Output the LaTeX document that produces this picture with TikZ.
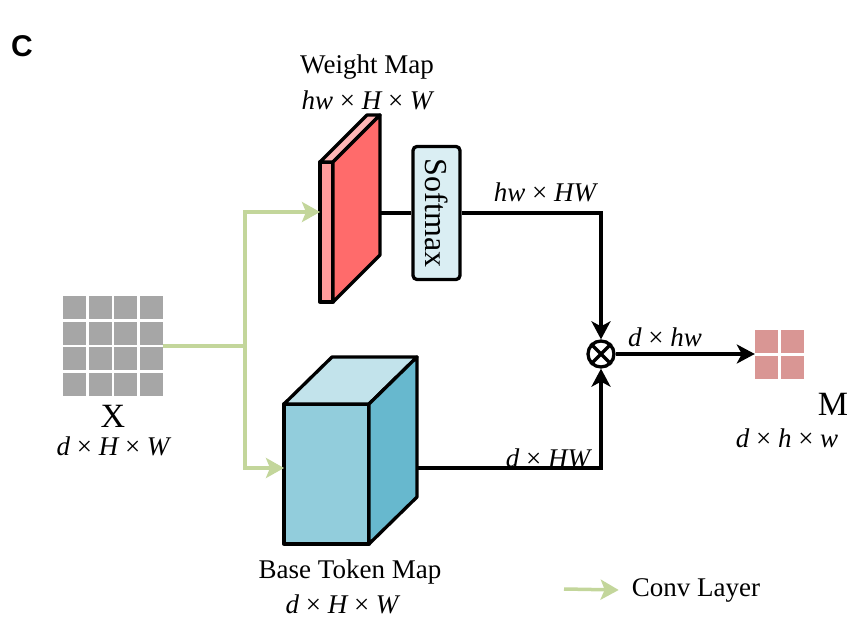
\documentclass[tikz,border=0pt]{standalone}
\usepackage{fontspec}
\setmainfont{Liberation Serif}
\newfontfamily\panelfont{Liberation Sans}
\usetikzlibrary{arrows.meta}

\definecolor{xgray}{HTML}{A6A6A6}
\definecolor{convgreen}{HTML}{C3D69B}
\definecolor{wfront}{HTML}{FF9B9B}
\definecolor{wtop}{HTML}{FFB5B5}
\definecolor{wside}{HTML}{FF6B6B}
\definecolor{softblue}{HTML}{DAEEF3}
\definecolor{cfront}{HTML}{92CDDC}
\definecolor{ctop}{HTML}{C2E3EB}
\definecolor{cside}{HTML}{67B8CE}
\definecolor{mpink}{HTML}{D99694}

% sizes such as d x H x W
\newcommand{\dimtxt}[1]{\itshape #1}

\begin{document}
\begin{tikzpicture}[x=1pt, y=-1pt,
    lbl/.style={font=\fontsize{27}{32}\selectfont, inner sep=0pt},
    dims/.style={font=\fontsize{27}{32}\selectfont\itshape, inner sep=0pt},
    bigl/.style={font=\fontsize{34}{40}\selectfont, inner sep=0pt},
    face/.style={draw=black, line width=3.3pt, line join=round},
    edge/.style={draw=black, line width=3.3pt},
    flow/.style={edge, -{Stealth[length=18pt, width=19pt, inset=5pt]}},
    convline/.style={draw=convgreen, line width=3.5pt},
    conv/.style={convline, -{Stealth[length=18pt, width=20pt, inset=4pt]}},
    softbox/.style={draw, line width=3.3pt, fill=softblue, rounded corners=4pt,
        minimum width=47pt, minimum height=133pt, inner sep=0pt,
        font=\fontsize{32}{38}\selectfont},
    mulnode/.style={draw, circle, line width=3.3pt, minimum size=26pt, inner sep=0pt, fill=white},
]
    \useasboundingbox (0,0) rectangle (868,636);

    % Panel letter
    \node (panel) at (22,46) {\panelfont\fontsize{30}{34}\selectfont\bfseries C};

    % Input X
    \node[minimum size=100pt, inner sep=0pt] (xmap) at (113,346) {};
    \foreach \i in {0,...,3}
        \foreach \j in {0,...,3}
            \fill[xgray] (63+25.67*\i, 296+25.67*\j) rectangle ++(23,23);
    \node[bigl] (xname) at (113,416) {X};
    \node[dims] (xsize) at (113,446) {d {\upshape×} H {\upshape×} W};

    % Weight map (thin slab)
    \filldraw[face, fill=wfront] (320,162) rectangle (333,302);
    \filldraw[face, fill=wtop] (320,162) -- (367,115) -- (380,115) -- (333,162) -- cycle;
    \filldraw[face, fill=wside] (333,162) -- (380,115) -- (380,255) -- (333,302) -- cycle;
    \coordinate (win) at (320,212);
    \coordinate (wout) at (380,213);
    \node[lbl] (wname) at (367,67) {Weight Map};
    \node[dims] (wsize) at (367,100) {hw {\upshape×} H {\upshape×} W};

    % Softmax
    \node[softbox] (soft) at (436.5,213) {\rotatebox{-90}{Softmax}};

    % Base token map (cube)
    \filldraw[face, fill=cfront] (284,404) rectangle (369,544);
    \filldraw[face, fill=ctop] (284,404) -- (332,357) -- (417,357) -- (369,404) -- cycle;
    \filldraw[face, fill=cside] (369,404) -- (417,357) -- (417,497) -- (369,544) -- cycle;
    \coordinate (cin) at (284,468);
    \coordinate (cout) at (417,468);
    \node[lbl] (cname) at (350,572) {Base Token Map};
    \node[dims] (csize) at (342,604) {d {\upshape×} H {\upshape×} W};

    % Product
    \node[mulnode] (mul) at (601,354) {};
    \draw[line width=3.3pt] (mul.north west) -- (mul.south east)
                            (mul.north east) -- (mul.south west);

    % Output M
    \node[minimum size=49pt, inner sep=0pt] (mmap) at (779.5,354) {};
    \foreach \i in {0,1}
        \foreach \j in {0,1}
            \fill[mpink] (755+26*\i, 330+26*\j) rectangle ++(23,23);
    \node[bigl] (mname) at (833,404) {M};
    \node[dims] (msize) at (787,438) {d {\upshape×} h {\upshape×} w};

    % Conv layers
    \coordinate (split) at (245,346);
    \draw[convline] (xmap.east) -- (split);
    \draw[conv] (split) |- (win);
    \draw[conv] (split) |- (cin);

    % Flow
    \draw[edge] (wout) -- (soft.west);
    \draw[flow] (soft.east) -| (mul.north);
    \draw[flow] (cout) -| (mul.south);
    \draw[flow] (mul.east) -- (mmap.west);
    \node[dims] (lsoft) at (545,192) {hw {\upshape×} HW};
    \node[dims] (lbase) at (548,458) {d {\upshape×} HW};
    \node[dims] (lout) at (665,337) {d {\upshape×} hw};

    % Legend
    \coordinate (lgs) at (564,589);
    \node[lbl] (legend) at (696,590) {Conv Layer};
    \draw[conv] (lgs) -- ([xshift=-13pt]legend.west);
\end{tikzpicture}
\end{document}
